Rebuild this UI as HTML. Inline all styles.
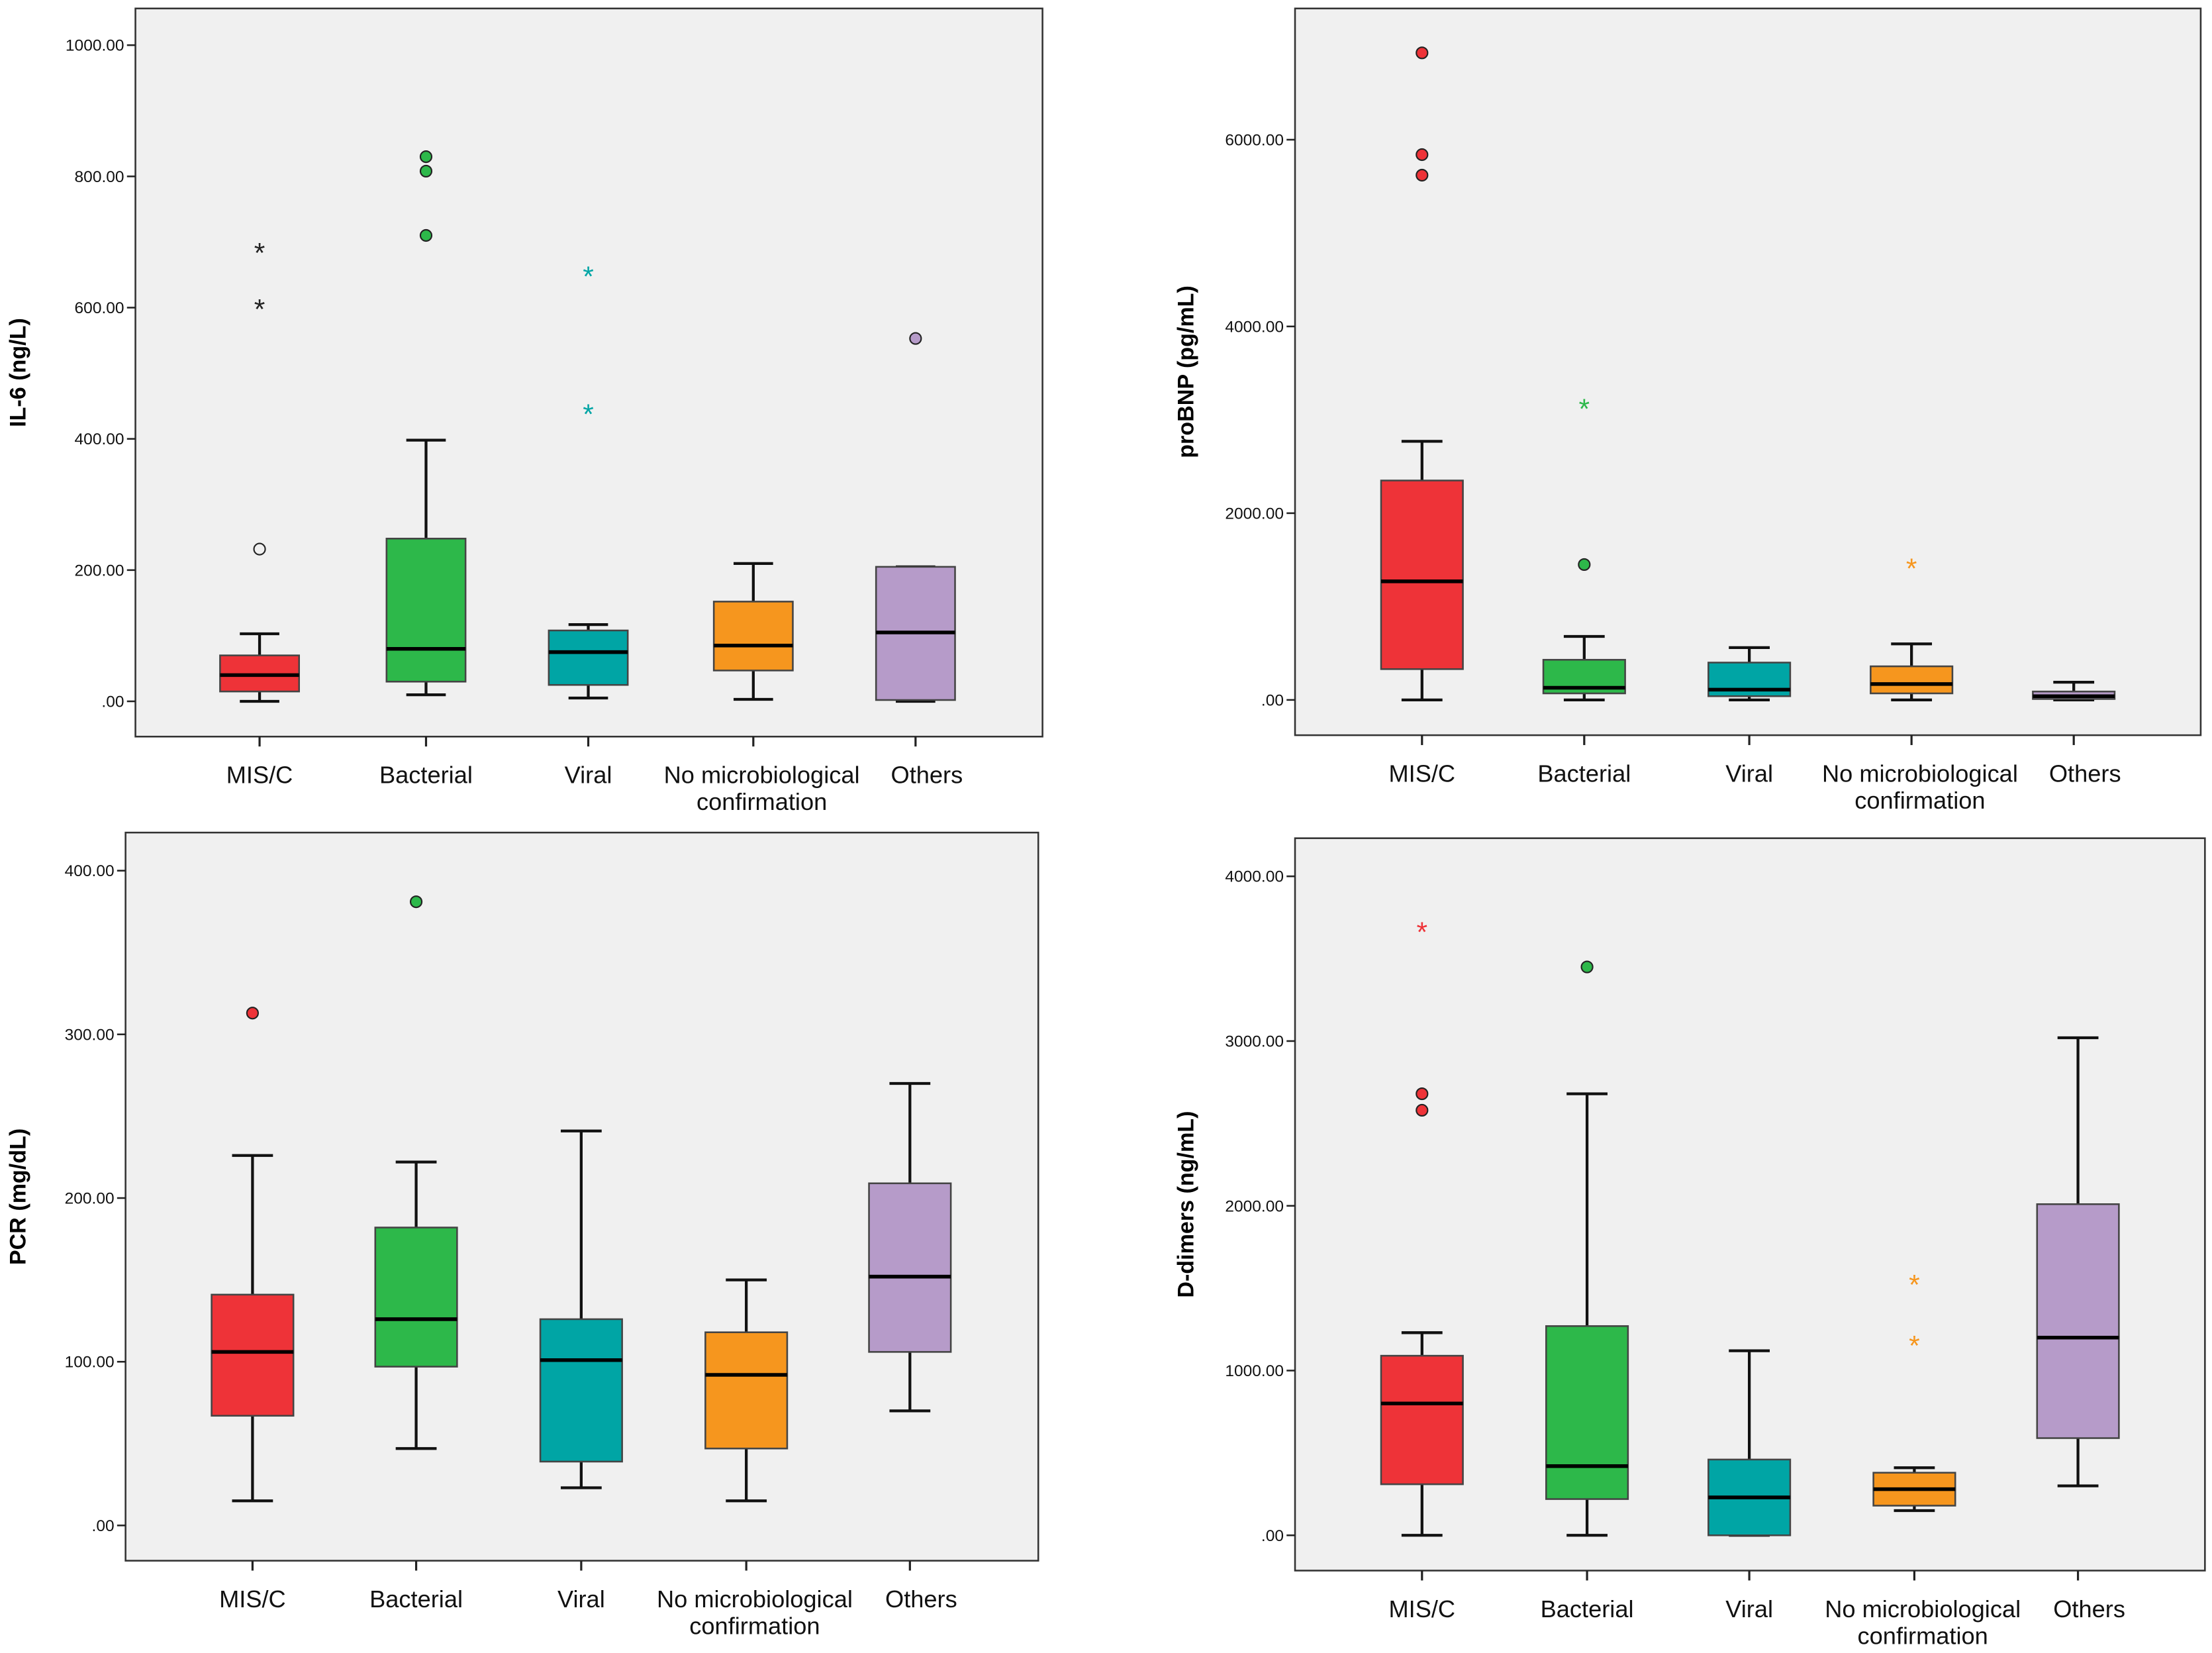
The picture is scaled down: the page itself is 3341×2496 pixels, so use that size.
<!DOCTYPE html>
<html><head><meta charset="utf-8"><style>
html,body{margin:0;padding:0;background:#fff;}
svg{display:block;}
text{font-family:"Liberation Sans",Arial,sans-serif;}
</style></head>
<body>
<svg id="c" width="3341" height="2496" viewBox="0 0 1568 1171.4" preserveAspectRatio="none" xmlns="http://www.w3.org/2000/svg"></svg>
<script>
const categories = ["MIS/C","Bacterial","Viral","No microbiological|confirmation","Others"];
const colors = ["#ee3338","#2db84a","#00a5a5","#f6961e","#b69bc9"];
// [low, q1, median, q3, high] per category
const il6Boxes = [[0,15,40,70,103],[10,30,80,248,398],[5,25,75,108,117],[3,47,85,152,210],[0,2,105,205,205]];
const il6Outliers = [[[232,"o"],[602,"*"],[688,"*"]],[[710,"c"],[808,"c"],[830,"c"]],[[442,"*"],[652,"*"]],[],[[553,"c"]]];
const il6Ticks = [0,200,400,600,800,1000];
const bnpBoxes = [[0,330,1270,2350,2770],[0,70,130,430,680],[0,40,110,400,560],[0,70,170,360,600],[0,10,40,90,190]];
const bnpOutliers = [[[5620,"c"],[5840,"c"],[6930,"c"]],[[1450,"c"],[3150,"*"]],[],[[1440,"*"]],[]];
const bnpTicks = [0,2000,4000,6000];
const crpBoxes = [[15,67,106,141,226],[47,97,126,182,222],[23,39,101,126,241],[15,47,92,118,150],[70,106,152,209,270]];
const crpOutliers = [[[313,"c"]],[[381,"c"]],[],[],[]];
const crpTicks = [0,100,200,300,400];
const ddBoxes = [[0,310,800,1090,1230],[0,220,420,1270,2680],[0,0,230,460,1120],[150,180,280,380,410],[300,590,1200,2010,3020]];
const ddOutliers = [[[2580,"c"],[2680,"c"],[3680,"*"]],[[3450,"c"]],[],[[1170,"*"],[1540,"*"]],[]];
const ddTicks = [0,1000,2000,3000,4000];

const NS="http://www.w3.org/2000/svg";
const svg=document.getElementById('c');
function mk(tag,attrs,parent){const e=document.createElementNS(NS,tag);for(const k in attrs)e.setAttribute(k,attrs[k]);(parent||svg).appendChild(e);return e;}
function fmt(v){return v===0?".00":v.toFixed(2);}

function panel(cfg){
  const g=mk('g',{});
  
  
  const y=v=>cfg.y0+(cfg.yTop-cfg.y0)*v/cfg.vTop;
  const fr=mk('rect',{x:cfg.fx0,y:cfg.fy0,width:cfg.fx1-cfg.fx0,height:cfg.fy1-cfg.fy0,fill:"#f0f0f0",stroke:"#333",'stroke-width':1.2},g);
  
  
  cfg.ticks.forEach(t=>{
    mk('line',{x1:cfg.fx0-6,x2:cfg.fx0,y1:y(t),y2:y(t),stroke:"#222",'stroke-width':1.2},g);
    const tx=mk('text',{x:cfg.fx0-8,y:y(t)+4,'font-size':11.5,'text-anchor':'end',fill:'#111'},g);
    tx.textContent=fmt(t);
    
    
  });
  const yt=mk('text',{x:0,y:0,'font-size':16,'font-weight':'bold','text-anchor':'middle',transform:`translate(${cfg.titleX},${(cfg.fy0+cfg.fy1)/2}) rotate(-90)`,fill:'#000'},g);
  yt.textContent=cfg.title;
  
  
  const bw=cfg.bw;
  categories.forEach((c,i)=>{
    const cx=cfg.cx[i], b=cfg.boxes[i];
    mk('line',{x1:cx,x2:cx,y1:cfg.fy1,y2:cfg.fy1+7,stroke:"#222",'stroke-width':1.5},g);
    const parts=c.split('|');
    const off=parts.length>1?6:(i===4?8:0);
    parts.forEach((p,k)=>{
      const t=mk('text',{x:cx+off,y:cfg.fy1+33+k*19,'font-size':17,'text-anchor':'middle',fill:'#111'},g);
      t.textContent=p;
      
      
    });
    const bg=mk('g',{},g);
    
    
    mk('line',{x1:cx,x2:cx,y1:y(b[0]),y2:y(b[1]),stroke:"#111",'stroke-width':2},bg);
    mk('line',{x1:cx,x2:cx,y1:y(b[3]),y2:y(b[4]),stroke:"#111",'stroke-width':2},bg);
    mk('line',{x1:cx-bw/4,x2:cx+bw/4,y1:y(b[0]),y2:y(b[0]),stroke:"#111",'stroke-width':2},bg);
    mk('line',{x1:cx-bw/4,x2:cx+bw/4,y1:y(b[4]),y2:y(b[4]),stroke:"#111",'stroke-width':2},bg);
    mk('rect',{x:cx-bw/2,y:y(b[3]),width:bw,height:Math.max(1,y(b[1])-y(b[3])),fill:colors[i],stroke:"#444",'stroke-width':1.2},bg);
    mk('line',{x1:cx-bw/2,x2:cx+bw/2,y1:y(b[2]),y2:y(b[2]),stroke:"#000",'stroke-width':2.6},bg);
    cfg.outliers[i].forEach(o=>{
      const oy=y(o[0]);
      let e;
      if(o[1]==="c"){e=mk('circle',{cx:cx,cy:oy,r:4,fill:colors[i],stroke:"#222",'stroke-width':1},g);}
      else if(o[1]==="o"){e=mk('circle',{cx:cx,cy:oy,r:4,fill:"#f0f0f0",stroke:"#222",'stroke-width':1},g);}
      else{e=mk('text',{x:cx,y:oy+9,'font-size':20,'text-anchor':'middle',fill:cfg.starBlack&&i===0?"#222":colors[i]},g);e.textContent="*";}
      
      
    });
  });
}
panel({name:'il6-panel',title:'IL-6 (ng/L)',fx0:96,fx1:739,fy0:6,fy1:522,y0:497,yTop:32,vTop:1000,ticks:il6Ticks,cx:[184,302,417,534,649],bw:56,boxes:il6Boxes,outliers:il6Outliers,titleX:18,starBlack:true});
panel({name:'probnp-panel',title:'proBNP (pg/mL)',fx0:918,fx1:1560,fy0:6,fy1:521,y0:496,yTop:99,vTop:6000,ticks:bnpTicks,cx:[1008,1123,1240,1355,1470],bw:58,boxes:bnpBoxes,outliers:bnpOutliers,titleX:846});
panel({name:'pcr-panel',title:'PCR (mg/dL)',fx0:89,fx1:736,fy0:590,fy1:1106,y0:1081,yTop:617,vTop:400,ticks:crpTicks,cx:[179,295,412,529,645],bw:58,boxes:crpBoxes,outliers:crpOutliers,titleX:18});
panel({name:'ddimers-panel',title:'D-dimers (ng/mL)',fx0:918,fx1:1563,fy0:594,fy1:1113,y0:1088,yTop:621,vTop:4000,ticks:ddTicks,cx:[1008,1125,1240,1357,1473],bw:58,boxes:ddBoxes,outliers:ddOutliers,titleX:846});
</script>
</body></html>
